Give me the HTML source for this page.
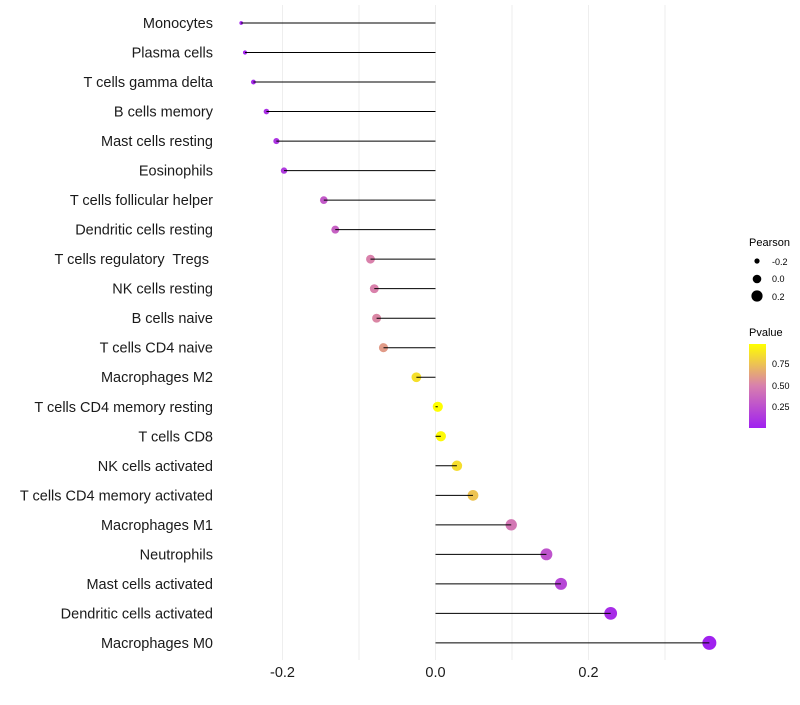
<!DOCTYPE html>
<html><head><meta charset="utf-8"><style>
body{margin:0;background:#fff;font-family:"Liberation Sans",sans-serif}
</style></head><body>
<svg id="chart" width="800" height="700" xmlns="http://www.w3.org/2000/svg">
<defs><linearGradient id="pg" x1="0" y1="1" x2="0" y2="0">
<stop offset="0" stop-color="#a020f0"/><stop offset="0.5" stop-color="#d87fae"/><stop offset="1" stop-color="#ffff00"/></linearGradient></defs>
<g id="grid"></g>
<g id="marks"></g>
<g id="ylabels"></g>
<g id="xlabels"></g>
<g font-size="10">
<text x="749" y="246" font-size="11">Pearson</text>
<circle cx="757" cy="261" r="2.6" fill="#000"/><text x="772" y="265" font-size="9">-0.2</text>
<circle cx="757" cy="279" r="4.3" fill="#000"/><text x="772" y="282" font-size="9">0.0</text>
<circle cx="757" cy="296" r="5.6" fill="#000"/><text x="772" y="300" font-size="9">0.2</text>
</g>
<g>
<text x="749" y="336" font-size="11">Pvalue</text>
<rect x="749" y="344" width="17" height="84" fill="url(#pg)"/>
<text x="772" y="367" font-size="9">0.75</text>
<text x="772" y="389" font-size="9">0.50</text>
<text x="772" y="410" font-size="9">0.25</text>
</g>
</svg>
<script>
const cells=["Monocytes","Plasma cells","T cells gamma delta","B cells memory","Mast cells resting","Eosinophils","T cells follicular helper","Dendritic cells resting","T cells regulatory  Tregs ","NK cells resting","B cells naive","T cells CD4 naive","Macrophages M2","T cells CD4 memory resting","T cells CD8","NK cells activated","T cells CD4 memory activated","Macrophages M1","Neutrophils","Mast cells activated","Dendritic cells activated","Macrophages M0"];
const pearson=[-0.254,-0.249,-0.238,-0.221,-0.208,-0.198,-0.146,-0.131,-0.085,-0.080,-0.077,-0.068,-0.025,0.003,0.007,0.028,0.049,0.099,0.145,0.164,0.229,0.358];
const pvalue=[0.02,0.03,0.05,0.09,0.11,0.14,0.30,0.34,0.50,0.50,0.52,0.60,0.86,0.98,0.96,0.85,0.75,0.45,0.27,0.20,0.07,0.01];
const xticks=[-0.2,0.0,0.2];
const xgrid=[-0.2,-0.1,0,0.1,0.2,0.3];
const NS="http://www.w3.org/2000/svg";
const X=v=>435.5+v*765;
const Y=i=>23+i*29.52;
function mk(t,a,p){const e=document.createElementNS(NS,t);for(const k in a)e.setAttribute(k,a[k]);p.appendChild(e);return e;}
function lerp(a,b,t){return a.map((x,i)=>Math.round(x+(b[i]-x)*t));}
function col(p){const lo=[160,32,240],mid=[216,127,174],hi=[255,255,0];const t=Math.max(0,Math.min(1,(p-0.006)/0.974));const c=t<0.5?lerp(lo,mid,t*2):lerp(mid,hi,(t-0.5)*2);return `rgb(${c})`;}
function rad(v){const f=Math.max(0,(v+0.256)/0.614);return 1.5+5.5*Math.sqrt(f);}
const g=document.getElementById('grid'),m=document.getElementById('marks'),yl=document.getElementById('ylabels'),xl=document.getElementById('xlabels');
xgrid.forEach(v=>{const l=mk('line',{x1:X(v),x2:X(v),y1:5,y2:660,stroke:'#eeeeee','stroke-width':1},g);
});
cells.forEach((c,i)=>{
const ci=mk('circle',{cx:X(pearson[i]),cy:Y(i),r:rad(pearson[i]),fill:col(pvalue[i])},m);

const s=mk('line',{x1:X(0),x2:X(pearson[i]),y1:Y(i),y2:Y(i),stroke:'#000','stroke-width':1},m);

const t=mk('text',{x:213,y:Y(i)+5,'text-anchor':'end','font-size':14.5,fill:'#1a1a1a'},yl);t.textContent=c;
t.setAttribute('xml:space','preserve');t.style.whiteSpace='pre';

});
xticks.forEach(v=>{const t=mk('text',{x:X(v),y:677,'text-anchor':'middle','font-size':14.5,fill:'#1a1a1a'},xl);t.textContent=v.toFixed(1);
});
</script>
</body></html>
